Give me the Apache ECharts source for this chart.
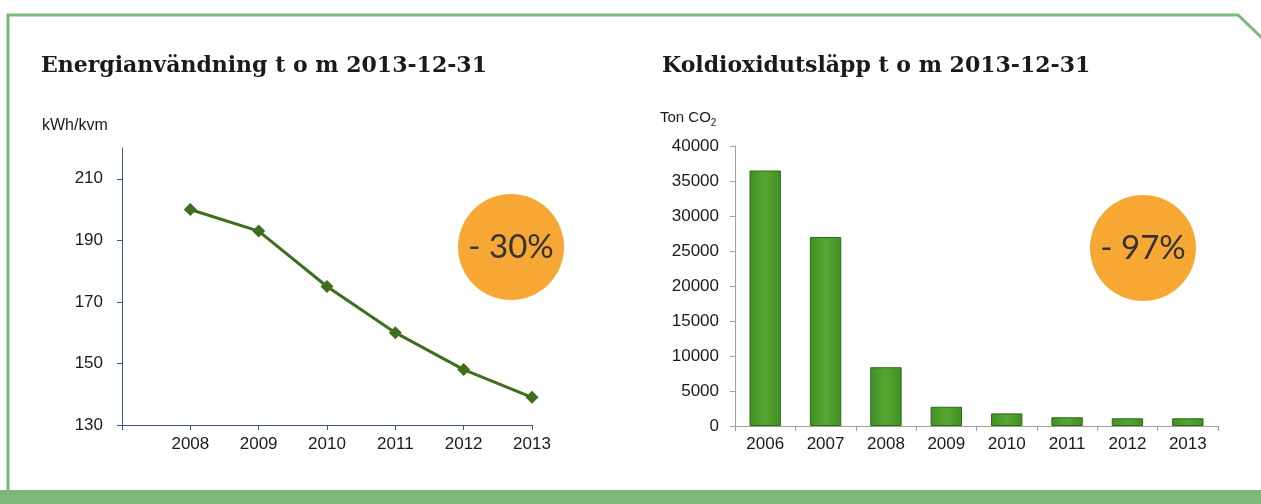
<!DOCTYPE html>
<html>
<head>
<meta charset="utf-8">
<script src="https://cdn.jsdelivr.net/npm/echarts@6/dist/echarts.min.js"></script>
<style>
  html, body { margin: 0; padding: 0; background: #fff; }
  #chart { width: 1261px; height: 504px; }
</style>
</head>
<body>
<div id="chart"></div>
<script>
// energy use per square metre
var energyYears = [2008, 2009, 2010, 2011, 2012, 2013];
var energyValues = [200, 193, 175, 160, 148, 139];
var energyTicks = [130, 150, 170, 190, 210];

// CO2 emissions
var co2Years = ['2006', '2007', '2008', '2009', '2010', '2011', '2012', '2013'];
var co2Values = [36500, 27000, 8400, 2750, 1800, 1250, 1100, 1100];

var frameGreen = '#7db87a';
var labelFont = 'Liberation Sans, Arial, sans-serif';
var titleFont = 'DejaVu Serif, serif';

window.onload = function () {
    var chart = echarts.init(document.getElementById('chart'));

    var energyData = [];
    for (var i = 0; i < energyYears.length; i++) {
        energyData.push([energyYears[i], energyValues[i]]);
    }

    var option = {
        backgroundColor: '#fff',
        animation: false,
        title: [
            {
                text: 'Energianvändning t o m 2013-12-31',
                left: 36, top: 50,
                textStyle: {fontFamily: titleFont, fontWeight: 'bold', fontSize: 22, color: '#1a1a1a'}
            },
            {
                text: 'Koldioxidutsläpp t o m 2013-12-31',
                left: 657, top: 50,
                textStyle: {fontFamily: titleFont, fontWeight: 'bold', fontSize: 22, color: '#1a1a1a'}
            }
        ],
        grid: [
            {left: 122, right: 729, top: 148, bottom: 79},
            {left: 735, right: 43, top: 146, bottom: 78}
        ],
        xAxis: [
            {
                gridIndex: 0,
                type: 'value',
                min: 2007, max: 2013, interval: 1,
                splitLine: {show: false},
                axisLine: {show: true, lineStyle: {color: '#3b5788', width: 1}},
                axisTick: {show: true, length: 5, lineStyle: {color: '#3b5788'}},
                axisLabel: {
                    fontFamily: labelFont, fontSize: 17, color: '#1a1a1a', margin: 11,
                    formatter: function (v) { return v === 2007 ? '' : String(v); }
                }
            },
            {
                gridIndex: 1,
                type: 'category',
                data: co2Years,
                axisLine: {lineStyle: {color: '#a0a0a0'}},
                axisTick: {show: true, length: 5, lineStyle: {color: '#a0a0a0'}},
                axisLabel: {fontFamily: labelFont, fontSize: 17, color: '#1a1a1a', margin: 10}
            }
        ],
        yAxis: [
            {
                gridIndex: 0,
                type: 'value',
                min: 130, max: 220,
                name: 'kWh/kvm',
                nameLocation: 'end',
                nameGap: 14,
                nameTextStyle: {fontFamily: labelFont, fontSize: 16, color: '#1a1a1a', align: 'left', padding: [0, 0, 0, -80]},
                splitLine: {show: false},
                axisLine: {show: true, lineStyle: {color: '#3b5788', width: 1}},
                axisTick: {show: true, inside: false, length: 5, customValues: energyTicks, lineStyle: {color: '#3b5788'}},
                axisLabel: {customValues: energyTicks, fontFamily: labelFont, fontSize: 17, color: '#1a1a1a', margin: 19}
            },
            {
                gridIndex: 1,
                type: 'value',
                min: 0, max: 40000, interval: 5000,
                name: '{a|Ton CO}{s|2}',
                nameLocation: 'end',
                nameGap: 18,
                nameTextStyle: {
                    align: 'left', padding: [0, 0, 0, -75],
                    rich: {
                        a: {fontFamily: labelFont, fontSize: 15, color: '#1a1a1a'},
                        s: {fontFamily: labelFont, fontSize: 10, color: '#1a1a1a', padding: [10, 0, 0, 0]}
                    }
                },
                splitLine: {show: false},
                axisLine: {show: true, lineStyle: {color: '#a0a0a0'}},
                axisTick: {show: true, length: 5, lineStyle: {color: '#a0a0a0'}},
                axisLabel: {
                    fontFamily: labelFont, fontSize: 17, color: '#1a1a1a', margin: 16,
                    formatter: function (v) { return String(v); }
                }
            }
        ],
        series: [
            {
                name: 'Energianvändning',
                type: 'line',
                xAxisIndex: 0, yAxisIndex: 0,
                data: energyData,
                symbol: 'diamond',
                symbolSize: 13,
                lineStyle: {color: '#3d6f1e', width: 3},
                itemStyle: {color: '#3d6f1e'}
            },
            {
                name: 'Koldioxidutsläpp',
                type: 'bar',
                xAxisIndex: 1, yAxisIndex: 1,
                data: co2Values,
                barWidth: '52%',
                itemStyle: {
                    color: new echarts.graphic.LinearGradient(0, 0, 1, 0, [
                        {offset: 0, color: '#428e24'},
                        {offset: 0.5, color: '#55a731'},
                        {offset: 1, color: '#428e24'}
                    ]),
                    borderColor: '#2f6a18',
                    borderWidth: 1
                }
            }
        ],
        graphic: [
            // frame
            {
                type: 'polyline',
                shape: {points: [[8, 490], [8, 15], [1238, 15], [1262, 38]]},
                style: {stroke: frameGreen, lineWidth: 3, fill: null},
                silent: true
            },
            {
                type: 'rect',
                shape: {x: 0, y: 490, width: 1261, height: 14},
                style: {fill: frameGreen},
                silent: true
            },
            // badges
            {
                type: 'circle',
                shape: {cx: 511, cy: 247, r: 53},
                style: {fill: '#f7a733'},
                silent: true
            },
            {
                type: 'text',
                x: 511, y: 247,
                style: {text: '- 30%', fill: '#333', font: '33px Lato, sans-serif', align: 'center', verticalAlign: 'middle'},
                silent: true
            },
            {
                type: 'circle',
                shape: {cx: 1143, cy: 248, r: 53},
                style: {fill: '#f7a733'},
                silent: true
            },
            {
                type: 'text',
                x: 1143, y: 248,
                style: {text: '- 97%', fill: '#333', font: '33px Lato, sans-serif', align: 'center', verticalAlign: 'middle'},
                silent: true
            }
        ]
    };
    chart.setOption(option);
};
</script>
</body>
</html>
